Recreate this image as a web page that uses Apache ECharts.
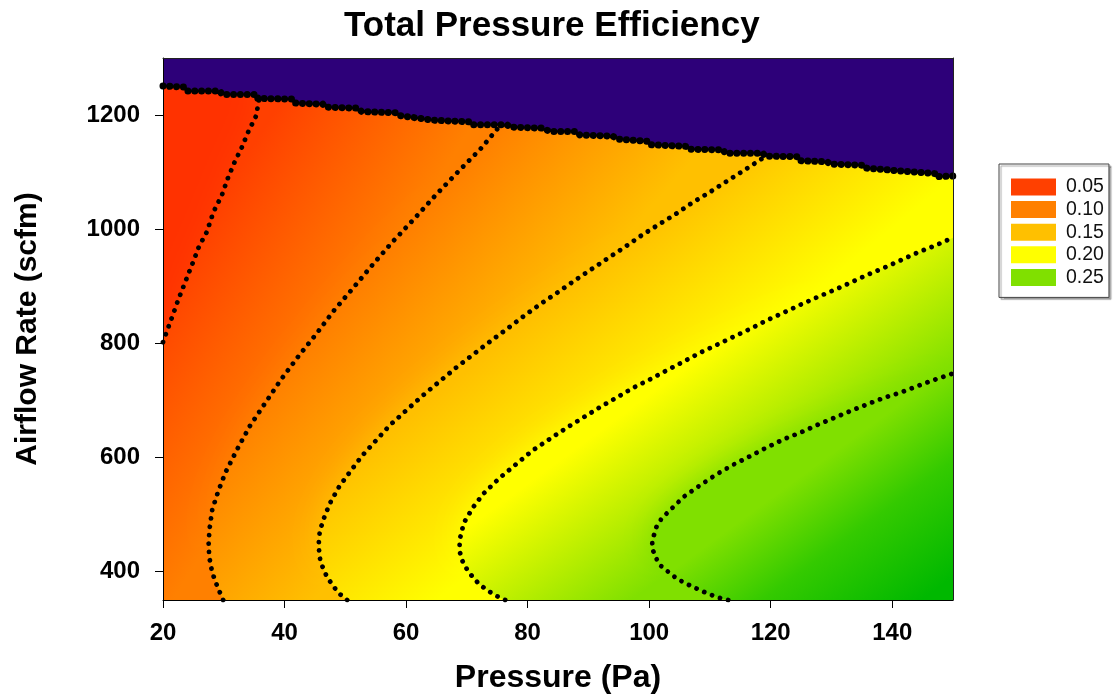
<!DOCTYPE html>
<html>
<head>
<meta charset="utf-8">
<title>Total Pressure Efficiency</title>
<script src="https://cdn.jsdelivr.net/npm/echarts@6/dist/echarts.min.js"></script>
<style>
  html, body { margin: 0; padding: 0; background: #ffffff; }
  #chart { width: 1115px; height: 695px; }
</style>
</head>
<body>
<div id="chart"></div>
<script>
// ---- Data: contour lines of efficiency over (Pressure [Pa], Airflow [scfm]) ----
const X_MIN = 20, X_MAX = 150, Y_MIN = 350, Y_MAX = 1300;
const xTicks = [20, 40, 60, 80, 100, 120, 140];
const yTicks = [400, 600, 800, 1000, 1200];

const levelNames = ['0.05', '0.10', '0.15', '0.20', '0.25'];
const levelColors = ['#ff4000', '#ff8000', '#ffc000', '#ffff00', '#80e000'];

// iso-lines, listed from where they enter the plot to where they leave it
const contour005 = [[20, 802], [20.7, 823], [21.5, 846], [22.5, 876], [23.9, 914], [24.9, 941], [25.9, 969],
  [27.2, 995], [28.3, 1030], [29.7, 1060], [30.7, 1090], [31.8, 1118], [33.0, 1144], [34.0, 1170],
  [35.3, 1198], [35.8, 1226]];
const contour010 = [[29.9, 350], [29.0, 372], [28.1, 398], [27.6, 426], [27.5, 452], [27.7, 478], [28.1, 508],
  [29.1, 541], [30.3, 574], [32.2, 614], [34.3, 655], [36.8, 695], [39.4, 736], [42.2, 776], [45.2, 816],
  [48.1, 857], [51.3, 897], [54.6, 939], [57.8, 978], [61.5, 1020], [64.9, 1060], [68.5, 1100],
  [72.2, 1140], [74.5, 1169], [75.2, 1178]];
const contour015 = [[50.3, 350], [48.8, 363], [47.0, 390], [45.9, 417], [45.6, 445], [45.8, 471], [46.7, 500],
  [47.6, 522], [49.0, 549], [50.8, 575], [52.7, 602], [55.0, 629], [57.4, 657], [60.1, 683], [62.7, 708],
  [65.5, 733], [68.2, 757], [71.0, 780], [73.8, 803], [76.6, 825], [79.3, 847], [82.0, 868], [84.8, 888],
  [87.6, 909], [90.4, 929], [93.2, 949], [95.9, 968], [98.6, 988], [101.4, 1007], [104.3, 1026],
  [106.9, 1045], [109.7, 1063], [112.5, 1082], [115.3, 1101], [118.2, 1121], [118.9, 1126]];
const contour020 = [[76.3, 350], [74.9, 357], [73.5, 366], [72.0, 378], [70.9, 391], [70.0, 404], [69.3, 418],
  [68.9, 432], [68.8, 445], [68.9, 459], [69.5, 485], [71.0, 512], [72.7, 536], [75.3, 563], [78.1, 588],
  [80.8, 612], [83.6, 632], [86.3, 651], [89.2, 670], [91.9, 688], [94.7, 705], [97.4, 722], [100.2, 737],
  [103.0, 753], [105.7, 768], [108.5, 784], [111.3, 798], [114.0, 812], [116.8, 826], [119.5, 841],
  [122.2, 854], [125.0, 868], [127.7, 881], [130.6, 894], [133.3, 907], [136.1, 921], [138.8, 933],
  [141.7, 947], [144.4, 960], [147.2, 972], [150, 985]];
const contour025 = [[113.0, 350], [111.5, 354], [110.2, 359], [108.8, 365], [107.4, 372], [106.0, 379],
  [104.6, 387], [103.3, 398], [101.9, 410], [101.1, 424], [100.6, 438], [100.5, 451], [100.8, 464],
  [101.2, 478], [102.0, 492], [103.1, 504], [105.7, 531], [108.5, 552], [111.2, 571], [114.0, 588],
  [116.8, 603], [119.5, 618], [122.2, 632], [125.0, 644], [127.7, 657], [130.6, 670], [133.3, 682],
  [136.1, 694], [138.8, 705], [141.7, 715], [144.4, 726], [147.2, 737], [150, 747]];

// upper limit of the operating range (stepped edge of the valid region)
const boundary = [[20, 1251], [23.5, 1249], [23.9, 1242], [29.4, 1242], [29.7, 1236], [35.5, 1236],
  [35.6, 1229], [41.4, 1228], [41.7, 1221], [46.3, 1219], [46.7, 1214], [52.1, 1212], [52.7, 1206],
  [58.5, 1204], [59.0, 1199], [64.4, 1191], [70.5, 1188], [70.8, 1183], [76.6, 1183], [77.1, 1179],
  [82.5, 1177], [83.7, 1171], [88.1, 1171], [88.6, 1165], [94.0, 1163], [94.7, 1158], [99.8, 1154],
  [100.1, 1148], [106.2, 1145], [106.7, 1140], [112.2, 1139], [112.5, 1133], [118.7, 1133], [119.1, 1128],
  [124.5, 1127], [124.8, 1120], [129.3, 1118], [129.8, 1114], [135.5, 1112], [135.8, 1107], [141.3, 1102],
  [141.6, 1099], [147.4, 1097], [147.5, 1092], [150, 1093]];

// ---- Styling ----
const baseFill = '#ff3200';          // below the lowest iso-line
const beyondColors = ['#80e000', '#34ca00', '#00b800']; // above the highest iso-line
const outsideColor = '#2d0079';
const FONT = '"Liberation Sans", Arial, Helvetica, sans-serif';

const contours = [contour005, contour010, contour015, contour020, contour025];

// Region lying on the high-efficiency side of an iso-line, closed along the plot edges.
function regionRightOf(line) {
  const pts = line.slice();
  const last = line[line.length - 1];
  if (last[0] < X_MAX) {
    pts.push([last[0], Y_MAX], [X_MAX, Y_MAX]);
  }
  pts.push([X_MAX, Y_MIN]);
  if (line[0][1] !== Y_MIN) pts.push([X_MIN, Y_MIN]);
  return pts;
}

// Least-squares linear ramp f(x, y) = a*x + b*y + c in screen space,
// equal to 0 along one iso-line and 1 along the next.
function fitRamp(lowPx, highPx) {
  const M = [[0, 0, 0], [0, 0, 0], [0, 0, 0]];
  const v = [0, 0, 0];
  function add(p, t) {
    const r = [p[0], p[1], 1];
    for (let i = 0; i < 3; i++) {
      for (let j = 0; j < 3; j++) M[i][j] += r[i] * r[j];
      v[i] += r[i] * t;
    }
  }
  lowPx.forEach(function (p) { add(p, 0); });
  highPx.forEach(function (p) { add(p, 1); });
  // Gaussian elimination
  const A = M.map(function (row, i) { return row.concat([v[i]]); });
  for (let c = 0; c < 3; c++) {
    let piv = c;
    for (let r = c + 1; r < 3; r++) if (Math.abs(A[r][c]) > Math.abs(A[piv][c])) piv = r;
    const tmp = A[c]; A[c] = A[piv]; A[piv] = tmp;
    for (let r = 0; r < 3; r++) {
      if (r === c) continue;
      const f = A[r][c] / A[c][c];
      for (let k = c; k < 4; k++) A[r][k] -= f * A[c][k];
    }
  }
  return [A[0][3] / A[0][0], A[1][3] / A[1][1], A[2][3] / A[2][2]];
}

// screen point where the ramp takes the value f
function rampPoint(ramp, f) {
  const a = ramp[0], b = ramp[1], c = ramp[2];
  const gg = a * a + b * b;
  return [(f - c) * a / gg, (f - c) * b / gg];
}

function polygonSeries(buildElement, z) {
  return {
    type: 'custom',
    coordinateSystem: 'cartesian2d',
    clip: true,
    silent: true,
    animation: false,
    z: z,
    data: [[X_MIN, Y_MIN]],
    renderItem: function (params, api) {
      const toPx = function (pts) { return pts.map(function (p) { return api.coord(p); }); };
      return buildElement(toPx);
    }
  };
}

const series = [];
// lowest band covers the whole plot
series.push(polygonSeries(function (toPx) {
  return {
    type: 'polygon',
    shape: { points: toPx([[X_MIN, Y_MIN], [X_MIN, Y_MAX], [X_MAX, Y_MAX], [X_MAX, Y_MIN]]) },
    style: { fill: baseFill }
  };
}, 1));

// each following band is painted over the previous one, shaded from its
// iso-line colour towards the colour of the next iso-line
contours.forEach(function (line, i) {
  series.push(polygonSeries(function (toPx) {
    let fill;
    if (i < contours.length - 1) {
      const ramp = fitRamp(toPx(line), toPx(contours[i + 1]));
      const p0 = rampPoint(ramp, 0), p1 = rampPoint(ramp, 1);
      fill = new echarts.graphic.LinearGradient(p0[0], p0[1], p1[0], p1[1], [
        { offset: 0, color: levelColors[i] },
        { offset: 1, color: levelColors[i + 1] }
      ], true);
    } else {
      const ramp = fitRamp(toPx(contours[i - 1]), toPx(line));
      const p0 = rampPoint(ramp, 1), p1 = rampPoint(ramp, 2.1);
      fill = new echarts.graphic.LinearGradient(p0[0], p0[1], p1[0], p1[1], [
        { offset: 0, color: beyondColors[0] },
        { offset: 0.45, color: beyondColors[1] },
        { offset: 1, color: beyondColors[2] }
      ], true);
    }
    return {
      type: 'polygon',
      shape: { points: toPx(regionRightOf(line)) },
      style: { fill: fill, shadowBlur: 30, shadowColor: levelColors[i] }
    };
  }, 1));
});

// region outside the operating range
series.push(polygonSeries(function (toPx) {
  return {
    type: 'polygon',
    shape: { points: toPx(boundary.concat([[X_MAX, Y_MAX], [X_MIN, Y_MAX]])) },
    style: { fill: outsideColor }
  };
}, 2));

// dotted iso-lines
contours.forEach(function (line, i) {
  series.push({
    type: 'line',
    name: levelNames[i],
    data: line,
    symbol: 'none',
    showSymbol: false,
    silent: true,
    animation: false,
    z: 5,
    itemStyle: { color: levelColors[i] },
    lineStyle: { color: '#000', width: 4.8, type: [0.01, 8.4], cap: 'round', join: 'round' }
  });
});
// dotted edge of the operating range
series.push({
  type: 'line',
  data: boundary,
  symbol: 'none',
  showSymbol: false,
  silent: true,
  animation: false,
  z: 6,
  lineStyle: { color: '#000', width: 7, type: [0.01, 6.8], cap: 'round', join: 'round' }
});

const chart = echarts.init(document.getElementById('chart'), null, { renderer: 'canvas' });
chart.setOption({
  animation: false,
  backgroundColor: '#ffffff',
  title: {
    text: 'Total Pressure Efficiency',
    left: 339,
    top: 4,
    textStyle: { fontFamily: FONT, fontWeight: 'bold', fontSize: 35, color: '#000' }
  },
  grid: { left: 163, right: 162, top: 58, bottom: 95, containLabel: false, outerBoundsMode: 'none' },
  legend: {
    orient: 'vertical',
    left: 999,
    top: 164,
    padding: [13, 5, 10, 12],
    itemWidth: 45,
    itemHeight: 17,
    itemGap: 2.6,
    icon: 'rect',
    selectedMode: false,
    backgroundColor: '#ffffff',
    borderColor: '#444',
    borderWidth: 1,
    shadowColor: 'rgba(0,0,0,0.35)',
    shadowBlur: 1,
    shadowOffsetX: 2,
    shadowOffsetY: 2,
    itemStyle: { borderWidth: 0 },
    textStyle: { fontFamily: FONT, fontSize: 19.5, color: '#111', lineHeight: 17, padding: [0, 0, 0, 5] },
    data: levelNames.map(function (n, i) {
      return { name: n, itemStyle: { color: levelColors[i], borderWidth: 0 } };
    })
  },
  xAxis: [{
    type: 'value',
    min: X_MIN,
    max: X_MAX,
    z: 10,
    name: 'Pressure (Pa)',
    nameLocation: 'middle',
    nameGap: 62,
    nameTextStyle: { fontFamily: FONT, fontWeight: 'bold', fontSize: 32, color: '#000' },
    axisLine: { show: true, onZero: false, lineStyle: { color: '#000', width: 1 } },
    axisTick: { show: true, inside: false, length: 8, customValues: xTicks, lineStyle: { color: '#000' } },
    axisLabel: {
      margin: 21, customValues: xTicks, formatter: function (v) { return String(v); },
      fontFamily: FONT, fontWeight: 'bold', fontSize: 24, color: '#000'
    },
    splitLine: { show: false }
  }, {
    type: 'value',
    position: 'top',
    min: X_MIN,
    max: X_MAX,
    z: 10,
    axisLine: { show: true, onZero: false, lineStyle: { color: '#222', width: 1 } },
    axisTick: { show: false },
    axisLabel: { show: false },
    splitLine: { show: false }
  }],
  yAxis: [{
    type: 'value',
    min: Y_MIN,
    max: Y_MAX,
    z: 10,
    name: 'Airflow Rate (scfm)',
    nameLocation: 'middle',
    nameGap: 120,
    nameTextStyle: { fontFamily: FONT, fontWeight: 'bold', fontSize: 30, color: '#000' },
    axisLine: { show: true, onZero: false, lineStyle: { color: '#000', width: 1 } },
    axisTick: { show: true, inside: false, length: 8, customValues: yTicks, lineStyle: { color: '#000' } },
    axisLabel: {
      margin: 23, customValues: yTicks, formatter: function (v) { return String(v); },
      fontFamily: FONT, fontWeight: 'bold', fontSize: 24, color: '#000'
    },
    splitLine: { show: false }
  }, {
    type: 'value',
    position: 'right',
    min: Y_MIN,
    max: Y_MAX,
    z: 10,
    axisLine: { show: true, onZero: false, lineStyle: { color: '#222', width: 1 } },
    axisTick: { show: false },
    axisLabel: { show: false },
    splitLine: { show: false }
  }],
  series: series
});
</script>
</body>
</html>
